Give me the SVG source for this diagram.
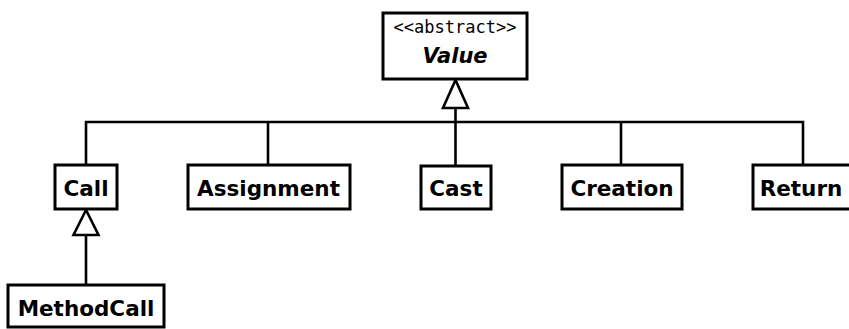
<svg xmlns="http://www.w3.org/2000/svg" width="849" height="329" viewBox="0 0 849 329">
<style>
.box{fill:#fff;stroke:#000;stroke-width:3}
.lbl{font-family:"DejaVu Sans",sans-serif;font-weight:bold;font-size:21.5px;text-anchor:middle;fill:#000}
.ster{font-family:"DejaVu Sans Mono",monospace;font-size:17px;text-anchor:middle;fill:#000}
.edge{fill:none;stroke:#000;stroke-width:2.6}
.tri{fill:#fff;stroke:#000;stroke-width:2.6}
</style>
<rect width="849" height="329" fill="#fff"/>
<g id="connectors">
<path class="edge" d="M455.5 108 V166 M86 165 V122 H803 V165 M268 122 V165 M621 122 V165"/>
<polygon class="tri" points="455.5,80 443,108 468,108"/>
<path class="edge" d="M86 235 V285"/>
<polygon class="tri" points="86,210 73.5,235 98.5,235"/>
</g>
<g id="Value">
<rect class="box" x="383" y="13" width="144" height="66"/>
<text class="ster" x="455" y="33">&lt;&lt;abstract&gt;&gt;</text>
<text class="lbl" x="455" y="63" font-style="italic" style="font-size:21px">Value</text>
</g>
<g id="Call">
<rect class="box" x="55" y="165" width="62" height="44"/>
<text class="lbl" x="86" y="196">Call</text>
</g>
<g id="Assignment">
<rect class="box" x="188" y="165" width="162" height="44"/>
<text class="lbl" x="268.5" y="196">Assignment</text>
</g>
<g id="Cast">
<rect class="box" x="421" y="166" width="70" height="43"/>
<text class="lbl" x="456" y="196">Cast</text>
</g>
<g id="Creation">
<rect class="box" x="562" y="165" width="120" height="44"/>
<text class="lbl" x="622" y="196">Creation</text>
</g>
<g id="Return">
<rect class="box" x="753" y="165" width="100" height="44"/>
<text class="lbl" x="801" y="196">Return</text>
</g>
<g id="MethodCall">
<rect class="box" x="8" y="285" width="156" height="42"/>
<text class="lbl" x="86" y="316">MethodCall</text>
</g>
</svg>
